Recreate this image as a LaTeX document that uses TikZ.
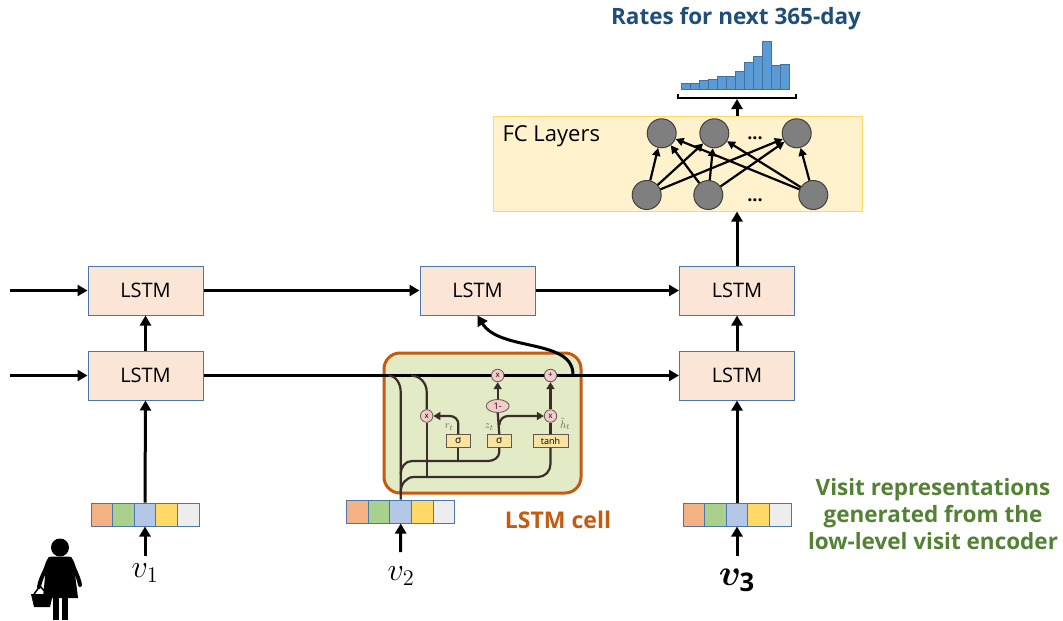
\documentclass[tikz,border=0pt]{standalone}
\usepackage{amsmath,bm}
\usepackage{fontspec}
\setmainfont{Open Sans}
\usetikzlibrary{arrows.meta,shapes.geometric}

\definecolor{lstmfill}{HTML}{FBE5D6}
\definecolor{lstmdraw}{HTML}{4A76A8}
\definecolor{fcfill}{HTML}{FFF2CC}
\definecolor{fcdraw}{HTML}{FFD966}
\definecolor{cellfill}{HTML}{E3EBC6}
\definecolor{celldraw}{HTML}{C55A11}
\definecolor{neuron}{HTML}{7F7F7F}
\definecolor{barfill}{HTML}{5B9BD5}
\definecolor{bardraw}{HTML}{41719C}
\definecolor{titleblue}{HTML}{1F4E79}
\definecolor{notegreen}{HTML}{548235}
\definecolor{gatefill}{HTML}{F6CCCB}
\definecolor{boxfill}{HTML}{F8E3A0}
\definecolor{ink}{HTML}{3A2E28}
\definecolor{vo}{HTML}{F4B183}
\definecolor{vg}{HTML}{A9D18E}
\definecolor{vb}{HTML}{B4C7E7}
\definecolor{vy}{HTML}{FFD966}
\definecolor{vw}{HTML}{EDEDED}

\tikzset{
  lstm/.style={draw=lstmdraw, fill=lstmfill, line width=1pt, minimum width=115pt,
    minimum height=49pt, inner sep=0pt, font=\fontsize{20}{24}\selectfont},
  flow/.style={line width=3pt, -{Triangle[length=10pt,width=11pt]}},
  neuronnode/.style={circle, fill=neuron, draw=black!75, line width=1pt,
    minimum size=29pt, inner sep=0pt},
  fcarrow/.style={line width=2.2pt, -{Triangle[length=8pt,width=8pt]}},
  vcell/.style={draw=lstmdraw, line width=1pt, minimum width=21.6pt,
    minimum height=23pt, inner sep=0pt},
  gate/.style={circle, draw=ink!80, fill=gatefill, line width=0.8pt,
    minimum size=12.5pt, inner sep=0pt, font=\fontsize{8}{8}\selectfont},
  gatebox/.style={draw=ink!80, fill=boxfill, line width=0.8pt, minimum width=24pt,
    minimum height=13pt, inner sep=0pt, font=\fontsize{10}{10}\selectfont},
  cellline/.style={draw=ink, line width=2.2pt},
  cellarrow/.style={cellline, -{Triangle[length=7pt,width=8pt]}},
  varlab/.style={text=black!60, font=\fontsize{11}{11}\selectfont, inner sep=0pt},
  vlab/.style={font=\fontsize{20.74}{24}\selectfont, inner sep=0pt, scale=1.55}
}

\begin{document}
\begin{tikzpicture}[x=1pt,y=-1pt]
\useasboundingbox (0,0) rectangle (1063,621);

% title and output histogram
\node[text=titleblue, font=\fontsize{22.5}{26}\selectfont\bfseries] (title) at (736,19) {Rates for next 365-day};
\foreach \h [count=\i from 0] in {83.3,83.3,80.3,79,76.3,76.3,71,62.7,56,41,65,64.3}
  \draw[fill=barfill, draw=bardraw, line width=0.6pt] ({681.7+\i*9},89.3) rectangle ({690.7+\i*9},\h);
\draw[line width=1.5pt] (678,93.5) -- (678,98) -- (796,98) -- (796,93.5);
\coordinate (hist) at (737,99);

% fully connected layers
\node[draw=fcdraw, fill=fcfill, line width=1pt, minimum width=369pt, minimum height=95pt, inner sep=0pt] (fc) at (677.5,163.5) {};
\node[anchor=west, font=\fontsize{22}{26}\selectfont] (fclab) at (499,136) {FC Layers};
\node[neuronnode] (t1) at (661.7,133.3) {};
\node[neuronnode] (t2) at (714.3,133.3) {};
\node[neuronnode] (t3) at (796.7,133.3) {};
\node[neuronnode] (b1) at (646.7,195) {};
\node[neuronnode] (b2) at (708.3,195) {};
\node[neuronnode] (b3) at (813.3,195) {};
\node[anchor=base, font=\fontsize{18}{18}\selectfont\bfseries] (tdots) at (755,139) {...};
\node[anchor=base, font=\fontsize{18}{18}\selectfont\bfseries] (bdots) at (755,201) {...};
\foreach \b in {b1,b2,b3}
  \foreach \t in {t1,t2,t3}
    \draw[fcarrow] (\b) -- (\t);

% LSTM blocks
\node[lstm] (A) at (145.5,290.5) {LSTM};
\node[lstm] (B) at (477.5,290.5) {LSTM};
\node[lstm] (C) at (737,290.5) {LSTM};
\node[lstm] (D) at (145.5,375.5) {LSTM};
\node[lstm] (E) at (737,375.5) {LSTM};
\coordinate (s1) at (10,290.5);
\coordinate (s2) at (10,375.5);

% expanded cell
\node[draw=celldraw, fill=cellfill, line width=3pt, rounded corners=16pt,
  minimum width=197pt, minimum height=140pt, inner sep=0pt] (cell) at (482.5,423) {};
\node[text=celldraw, font=\fontsize{23}{26}\selectfont\bfseries] (celllab) at (558,520) {LSTM cell};

% recurrent connections
\draw[flow] (s1) -- (A);
\draw[flow] (A) -- (B);
\draw[flow] (B) -- (C);
\draw[flow] (s2) -- (D);
\draw[flow] (D) -- (E);
\draw[flow] (D) -- (A);
\draw[flow] (E) -- (C);
\draw[flow] (C.north) -- (C |- fc.south);
\draw[flow] (C |- fc.north) -- (hist);
\coordinate (cellout) at (573,375.5);
\draw[flow] (cellout) .. controls (574,338) and (500,352) .. (B.south);

% input vectors
\foreach \c [count=\i] in {vo,vg,vb,vy,vw} {
  \node[vcell, fill=\c] (p1-\i) at ({101.8+(\i-1)*21.6},514.5) {};
  \node[vcell, fill=\c] (p2-\i) at ({357.5+(\i-1)*21.6},511.5) {};
  \node[vcell, fill=\c] (p3-\i) at ({693.8+(\i-1)*21.6},514.5) {};
}
\node[vlab] (v1) at (145,573) {$v_1$};
\node[vlab] (v2) at (401,576) {$v_2$};
\node[vlab, scale=1.15] (v3) at (737,580) {$\bm{v}_{\mathbf{3}}$};
\coordinate (u1) at (145,556);
\coordinate (u2) at (400.7,552);
\coordinate (u3) at (737,556);
\draw[flow] (u1) -- (p1-3.south);
\draw[flow] (u2) -- (p2-3.south);
\draw[flow] (u3) -- (p3-3.south);
\draw[flow] (p1-3.north) -- (D.south);
\draw[flow] (p3-3.north) -- (E.south);

% cell internals
\node[gate] (m1) at (497.7,375.5) {x};
\node[gate] (plus) at (550.5,375.5) {+};
\node[gate] (m2) at (426.7,416) {x};
\node[gate] (m3) at (550.5,416) {x};
\node[ellipse, draw=ink!80, fill=gatefill, line width=0.8pt, minimum width=23pt,
  minimum height=13pt, inner sep=0pt, font=\fontsize{9}{9}\selectfont] (om) at (497.7,406) {1-};
\node[gatebox] (g1) at (458.3,441) {σ};
\node[gatebox] (g2) at (499.3,441) {σ};
\node[gatebox, minimum width=35pt, font=\fontsize{9}{9}\selectfont] (g3) at (550.5,441) {tanh};
\node[varlab] (rl) at (449,427) {$r_t$};
\node[varlab] (zl) at (489,427) {$z_t$};
\node[varlab] (hl) at (565,424) {$\tilde{h}_t$};

\draw[cellline] (388,375.5) to[out=0,in=90] (400.7,392) -- (p2-3.north);
\draw[cellline] (411,375.5) to[out=0,in=90] (426.7,392) -- (m2.north);
\draw[cellline] (m2.south) -- (426.7,477);
\draw[cellline] (400.7,474) to[out=90,in=180] (412,461) -- (488,461) to[out=0,in=-90] (499.3,452) -- (g2.south);
\draw[cellline] (458.3,461) -- (g1.south);
\draw[cellline] (400.7,492) to[out=90,in=180] (414,477) -- (538,477) to[out=0,in=-90] (550.5,464) -- (g3.south);
\draw[cellarrow] (g1.north) -- (458.3,424) to[out=90,in=0] (450,416) -- (m2.east);
\draw[cellline] (g2.north) -- (om.south);
\draw[cellarrow] (499.3,425) to[out=90,in=180] (508,416) -- (m3.west);
\draw[cellline] (g3.north) -- (m3.south);
\draw[cellarrow] (om.north) -- (m1.south);
\draw[cellarrow] (m3.north) -- (plus.south);

% note on the visit vectors
\node[align=center, text=notegreen, font=\fontsize{22.5}{27}\selectfont\bfseries] (note) at (933,514)
  {Visit representations\\generated from the\\low-level visit encoder};

% shopper figure
\fill (60,547.5) circle (9);
\fill (51,556.5) to[out=180,in=80] (46,566) -- (43,598) -- (78,598) -- (74,566) to[out=100,in=0] (69,556.5) -- cycle;
\draw[line width=4pt, line cap=round] (48,562) to[out=-105,in=80] (39,587);
\draw[line width=4pt, line cap=round] (72,562) to[out=-75,in=100] (80,585);
\fill (53,596) rectangle (59,620);
\fill (62,596) rectangle (68,620);
\fill (31,594) -- (53,594) -- (50,607) -- (34,607) -- cycle;
\draw[line width=1.5pt] (34,594) -- (40,586) -- (47,594);
\end{tikzpicture}
\end{document}
